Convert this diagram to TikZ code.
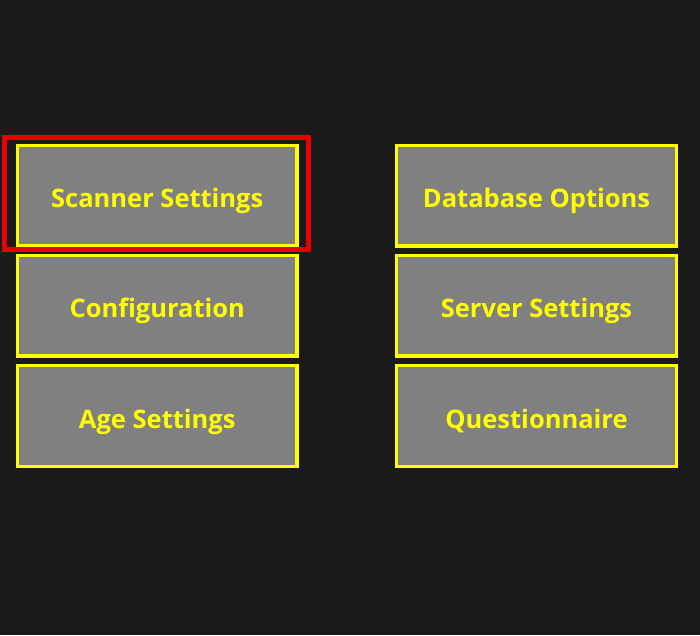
\documentclass[tikz,border=0pt]{standalone}
\usepackage{fontspec}
\setmainfont{Open Sans}
\definecolor{bgc}{HTML}{1A1A1A}
\definecolor{boxgray}{HTML}{808080}
\definecolor{ylw}{HTML}{FFFF00}
\definecolor{selred}{HTML}{E60000}
\begin{document}
\begin{tikzpicture}[x=1pt,y=1pt,
  btn/.style={draw=ylw,fill=boxgray,line width=3.2pt,minimum width=279.5pt,minimum height=100.5pt,
    inner sep=0pt,text height=24pt,text depth=0pt,text=ylw,font=\fontsize{25.5}{30}\selectfont\bfseries},
  sel/.style={draw=selred,line width=4.6pt,inner sep=0pt}]
\fill[bgc] (0,0) rectangle (700,635);
\useasboundingbox (0,0) rectangle (700,635);
\node[btn] (scan) at (157.25,439.25) {Scanner Settings};
\node[btn] (conf) at (157.25,329.25) {Configuration};
\node[btn] (age) at (157.25,219) {Age Settings};
\node[btn] (db) at (536.5,439.25) {Database Options};
\node[btn] (srv) at (536.5,329.25) {Server Settings};
\node[btn] (quest) at (536.5,219) {Questionnaire};
\node[sel,minimum width=303.6pt,minimum height=112.4pt] (focus) at (156.5,441.5) {};
\end{tikzpicture}
\end{document}
